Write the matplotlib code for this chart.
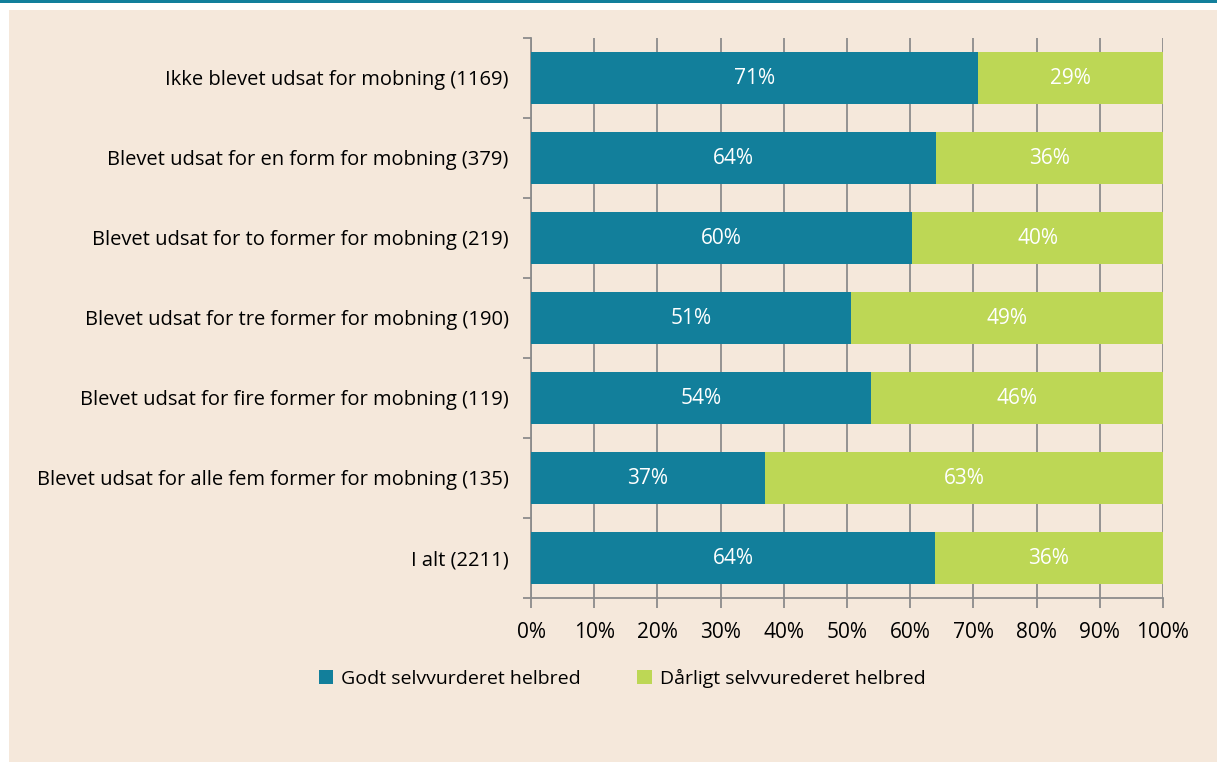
import numpy as np
import matplotlib.pyplot as plt
from matplotlib.patches import Rectangle

# data
categories = ['Ikke blevet udsat for mobning (1169)',
              'Blevet udsat for en form for mobning (379)',
              'Blevet udsat for to former for mobning (219)',
              'Blevet udsat for tre former for mobning (190)',
              'Blevet udsat for fire former for mobning (119)',
              'Blevet udsat for alle fem former for mobning (135)',
              'I alt (2211)']
godt = [70.7, 64.1, 60.3, 50.6, 53.8, 37.0, 63.9]
daarligt = [29.3, 35.9, 39.7, 49.4, 46.2, 63.0, 36.1]
series_names = ['Godt selvvurderet helbred', 'Dårligt selvvurederet helbred']

teal = '#127f9b'
green = '#bdd755'
bg = '#f5e8db'
grid_c = '#8c8c8c'
fs = 14.5

plt.rcParams['font.family'] = ['Open Sans', 'DejaVu Sans']

fig = plt.figure(figsize=(12.17, 7.62), dpi=100)
fig.patch.set_facecolor('white')
# beige panel and top rule
fig.patches.append(Rectangle((9/1217, 0), 1 - 9/1217, (762-10)/762,
                             transform=fig.transFigure, facecolor=bg,
                             edgecolor='none', zorder=-10))
fig.patches.append(Rectangle((0, (762-2.5)/762), 1, 2.5/762,
                             transform=fig.transFigure, facecolor=teal,
                             edgecolor='none', zorder=-10))

ax = fig.add_axes([531/1217, 164/762, 632/1217, 560/762])
ax.set_facecolor('none')

y = np.arange(len(categories))
h = 0.65
ax.barh(y, godt, height=h, color=teal, label=series_names[0], zorder=3)
ax.barh(y, daarligt, left=godt, height=h, color=green, label=series_names[1], zorder=3)

for i in range(len(categories)):
    ax.text(godt[i] / 2, y[i], '%d%%' % round(godt[i]), ha='center', va='center',
            color='white', fontsize=15, zorder=4)
    ax.text(godt[i] + daarligt[i] / 2, y[i], '%d%%' % round(daarligt[i]),
            ha='center', va='center', color='white', fontsize=15, zorder=4)

ax.set_xlim(0, 100)
ax.set_ylim(len(categories) - 0.5, -0.5)
ax.set_xticks(np.arange(0, 101, 10))
ax.set_xticklabels(['%d%%' % v for v in range(0, 101, 10)], fontsize=15)
ax.xaxis.grid(True, color=grid_c, linewidth=1.3, zorder=1)
ax.set_axisbelow(True)

ax.set_yticks(y)
ax.set_yticklabels(categories, fontsize=fs)
ax.tick_params(axis='y', length=0, pad=16)
ax.set_yticks(np.arange(-0.5, len(categories)), minor=True)
ax.tick_params(axis='y', which='minor', length=6, color=grid_c, width=1.3)
ax.tick_params(axis='x', length=7, color=grid_c, width=1.3, pad=10)

for s in ['top', 'right']:
    ax.spines[s].set_visible(False)
for s in ['left', 'bottom']:
    ax.spines[s].set_color(grid_c)
    ax.spines[s].set_linewidth(1.3)

fig.legend(loc='center', bbox_to_anchor=(622/1217, 84/762), ncol=2, frameon=False,
           fontsize=14, handlelength=0.75, handleheight=0.75, handletextpad=0.4,
           columnspacing=2.9)

fig.savefig('out.png', dpi=100, facecolor=fig.get_facecolor())
